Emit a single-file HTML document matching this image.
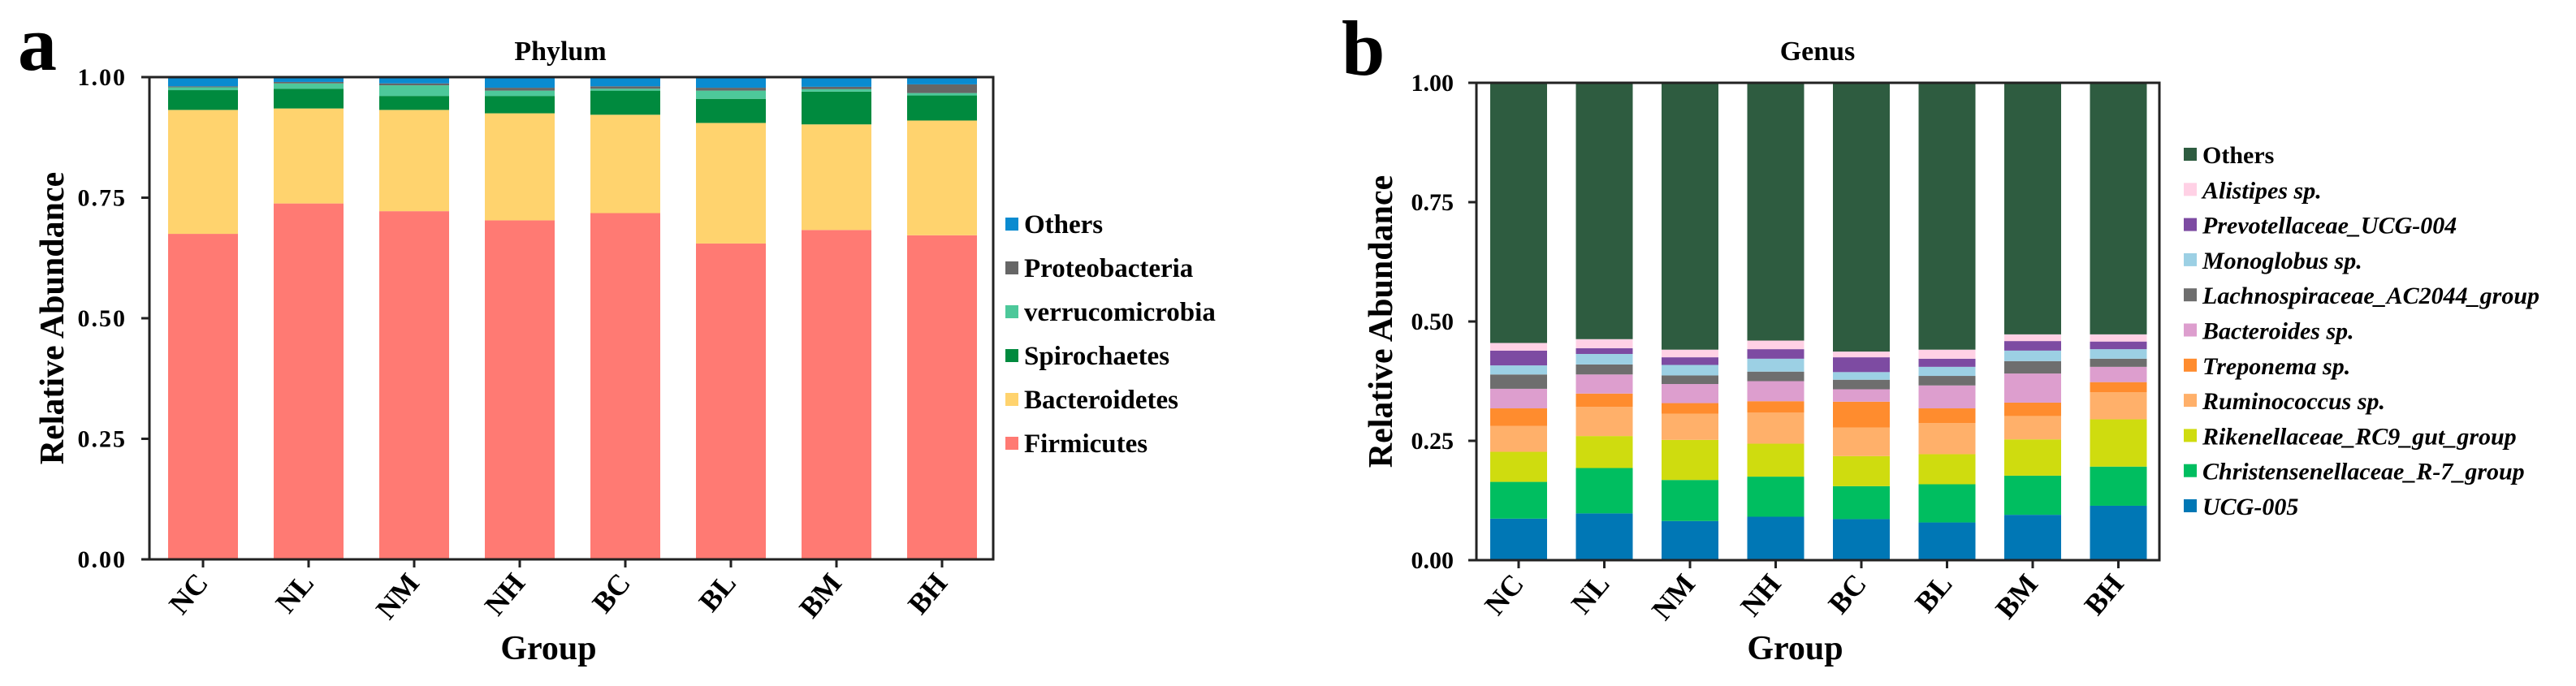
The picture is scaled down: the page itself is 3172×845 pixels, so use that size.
<!DOCTYPE html>
<html><head><meta charset="utf-8"><style>
html,body{margin:0;padding:0;background:#fff;}
svg{display:block;font-family:"Liberation Serif",serif;font-weight:bold;}
</style></head><body>
<svg id="fig" width="3172" height="845" viewBox="0 0 3172 845" xmlns="http://www.w3.org/2000/svg">
<text x="22" y="86" font-size="96">a</text>
<text x="1652" y="92" font-size="96">b</text>
</svg>
<script>
const groups = ["NC","NL","NM","NH","BC","BL","BM","BH"];
const yTicks = [0, 0.25, 0.5, 0.75, 1.0];
const yTickLabels = ["0.00","0.25","0.50","0.75","1.00"];
// Phylum series (bottom to top)
const phylumNames = ["Firmicutes","Bacteroidetes","Spirochaetes","verrucomicrobia","Proteobacteria","Others"];
const firmicutes = [0.675,0.738,0.722,0.703,0.718,0.655,0.683,0.672];
const bacteroidetes = [0.257,0.197,0.210,0.222,0.204,0.250,0.219,0.238];
const spirochaetes = [0.041,0.041,0.029,0.036,0.050,0.050,0.068,0.052];
const verrucomicrobia = [0.006,0.011,0.022,0.011,0.004,0.017,0.005,0.005];
const proteobacteria = [0.002,0.003,0.004,0.006,0.005,0.006,0.005,0.018];
const phylumOthers = [0.019,0.010,0.013,0.022,0.019,0.022,0.020,0.015];
// Genus series (bottom to top)
const genusNames = ["UCG-005","Christensenellaceae_R-7_group","Rikenellaceae_RC9_gut_group","Ruminococcus sp.","Treponema sp.","Bacteroides sp.","Lachnospiraceae_AC2044_group","Monoglobus sp.","Prevotellaceae_UCG-004","Alistipes sp.","Others"];
const ucg005 = [0.087,0.098,0.082,0.091,0.086,0.079,0.095,0.114];
const christensenellaceae = [0.077,0.095,0.086,0.084,0.069,0.080,0.082,0.082];
const rikenellaceae = [0.063,0.067,0.084,0.069,0.063,0.063,0.076,0.099];
const ruminococcus = [0.054,0.061,0.055,0.065,0.060,0.065,0.049,0.057];
const treponema = [0.037,0.028,0.022,0.024,0.054,0.031,0.028,0.021];
const bacteroides = [0.041,0.040,0.040,0.042,0.026,0.048,0.061,0.032];
const lachnospiraceae = [0.030,0.021,0.018,0.020,0.020,0.020,0.026,0.017];
const monoglobus = [0.019,0.022,0.022,0.027,0.016,0.019,0.022,0.020];
const prevotellaceae = [0.031,0.012,0.016,0.020,0.031,0.017,0.020,0.016];
const alistipes = [0.016,0.019,0.016,0.018,0.012,0.019,0.014,0.015];
const genusOthers = [0.545,0.537,0.559,0.540,0.563,0.559,0.527,0.527];

const NS = "http://www.w3.org/2000/svg";
const svg = document.getElementById("fig");
function mk(tag, attrs, parent){ const e=document.createElementNS(NS,tag); for(const k in attrs) e.setAttribute(k,attrs[k]); (parent||svg).appendChild(e); return e; }

function drawChart(cfg){
  const g = mk("g",{});
  
  
  const yScale = v => cfg.bottom - v*(cfg.bottom-cfg.top);
  const xCenter = i => cfg.firstBar + cfg.barW/2 + i*cfg.pitch;
  groups.forEach((grp,i)=>{
    let cum = 0;
    cfg.series.forEach((s,k)=>{
      const v = s[i];
      const y1 = yScale(cum), y2 = yScale(cum+v);
      const r = mk("rect",{x:xCenter(i)-cfg.barW/2, y:y2, width:cfg.barW, height:Math.max(0,y1-y2), fill:cfg.colors[k]}, g);
      
      
      cum += v;
    });
  });
  const fr = mk("rect",{x:cfg.left, y:cfg.top, width:cfg.right-cfg.left, height:cfg.bottom-cfg.top, fill:"none", stroke:"#222", "stroke-width":3}, g);
  
  
  yTicks.forEach((t,i)=>{
    const y = yScale(t);
    const tk = mk("line",{x1:cfg.left-10, x2:cfg.left, y1:y, y2:y, stroke:"#222","stroke-width":3}, g);
    
    
    const tl = mk("text",{x:cfg.left-28, y:y+10, "font-size":cfg.tickFont, "text-anchor":"end", "letter-spacing":cfg.tickLS}, g);
    tl.textContent = yTickLabels[i];
    
    
  });
  groups.forEach((grp,i)=>{
    const x = xCenter(i);
    const tk = mk("line",{x1:x, x2:x, y1:cfg.bottom, y2:cfg.bottom+10, stroke:"#222","stroke-width":3}, g);
    
    
    const tl = mk("text",{x:x+8, y:cfg.bottom+30, "font-size":36, "text-anchor":"end", transform:`rotate(-50 ${x+8} ${cfg.bottom+30})`}, g);
    tl.textContent = grp;
    
    
  });
  const tt = mk("text",{x:cfg.titleX, y:74, "font-size":34, "text-anchor":"middle"}, g);
  tt.textContent = cfg.title;
  
  
  const xt = mk("text",{x:(cfg.left+cfg.right)/2 - 28, y:812, "font-size":42, "text-anchor":"middle"}, g);
  xt.textContent = "Group";
  
  
  const yc = (cfg.top+cfg.bottom)/2;
  const yt = mk("text",{x:cfg.yTitleX, y:yc, "font-size":42, "text-anchor":"middle", transform:`rotate(-90 ${cfg.yTitleX} ${yc})`}, g);
  yt.textContent = "Relative Abundance";
  
  
  const n = cfg.names.length;
  for(let j=0;j<n;j++){
    const k = n-1-j;
    const cy = cfg.legY0 + j*cfg.legStep;
    const le = mk("g",{}, g);
    
    
    mk("rect",{x:cfg.legX, y:cy-8, width:16, height:16, fill:cfg.colors[k]}, le);
    const t = mk("text",{x:cfg.legX+23, y:cy+11, "font-size":cfg.legFont, "font-style":(cfg.italic && k!==n-1)?"italic":"normal"}, le);
    t.textContent = cfg.names[k];
  }
}

drawChart({
  name:"phylum-chart", title:"Phylum", titleX:690,
  left:184, right:1223, top:95, bottom:689,
  firstBar:207, barW:86, pitch:130,
  tickFont:30, tickLS:2, yTitleX:78,
  series:[firmicutes,bacteroidetes,spirochaetes,verrucomicrobia,proteobacteria,phylumOthers],
  colors:["#FF7A73","#FFD36E","#008A3E","#4DC89A","#666666","#0A8BD0"],
  names:phylumNames, legX:1238, legY0:276, legStep:54, legFont:33, italic:false
});
drawChart({
  name:"genus-chart", title:"Genus", titleX:2238,
  left:1818, right:2659, top:102, bottom:690,
  firstBar:1835, barW:70, pitch:105.5,
  tickFont:30, tickLS:0, yTitleX:1714,
  series:[ucg005,christensenellaceae,rikenellaceae,ruminococcus,treponema,bacteroides,lachnospiraceae,monoglobus,prevotellaceae,alistipes,genusOthers],
  colors:["#0077B5","#00BE60","#CFDC0F","#FFB06A","#FF8C2E","#DD9ECE","#6E6E6E","#9CD0E4","#7D4BA2","#FFD1E5","#2E5C40"],
  names:genusNames, legX:2689, legY0:190, legStep:43.3, legFont:30, italic:true
});
</script>
</body></html>
